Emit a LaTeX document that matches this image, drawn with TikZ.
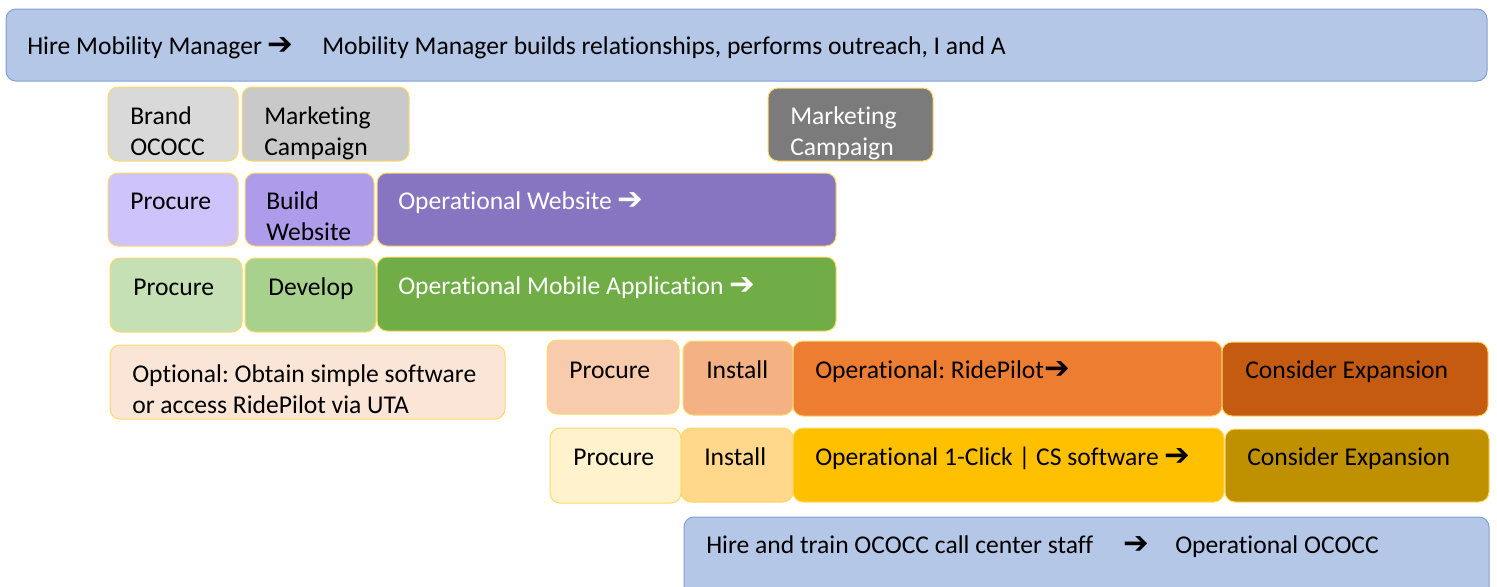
\documentclass[tikz,border=0pt]{standalone}
\usepackage{fontspec}
\setmainfont{Carlito}[Ligatures=NoCommon]
\newfontfamily\arrowfont{DejaVu Sans}
\newcommand{\rarr}{{\arrowfont\bfseries\fontsize{23}{23}\selectfont ➔}}
\frenchspacing

\definecolor{barblue}{HTML}{B4C7E7}
\definecolor{barline}{HTML}{7F9FD6}
\definecolor{boxline}{HTML}{FFD966}
\definecolor{greyA}{HTML}{D9D9D9}
\definecolor{greyB}{HTML}{C9C9C9}
\definecolor{greyC}{HTML}{7B7B7B}
\definecolor{purpleA}{HTML}{CEC3FA}
\definecolor{purpleB}{HTML}{AE9CEB}
\definecolor{purpleC}{HTML}{8775C2}
\definecolor{greenA}{HTML}{C5E0B4}
\definecolor{greenB}{HTML}{A9D18E}
\definecolor{greenC}{HTML}{70AD47}
\definecolor{peach}{HTML}{FBE5D6}
\definecolor{orangeA}{HTML}{F8CBAD}
\definecolor{orangeB}{HTML}{F4B183}
\definecolor{orangeC}{HTML}{ED7D31}
\definecolor{orangeD}{HTML}{C55A11}
\definecolor{yellowA}{HTML}{FFF2CC}
\definecolor{yellowB}{HTML}{FFD88C}
\definecolor{yellowC}{HTML}{FFC000}
\definecolor{yellowD}{HTML}{BF9000}

\begin{document}
\begin{tikzpicture}[x=0.75pt,y=-0.75pt,
    box/.style={draw=boxline, line width=0.75pt, rounded corners=7.5pt},
    lbl/.style={anchor=base west, inner sep=0pt, align=left, font=\fontsize{19.2}{23.2}\selectfont}]
    \useasboundingbox (0,0) rectangle (1497,586);

    %=== Mobility Manager ===
    \draw[box, draw=barline, fill=barblue] (6,9) rectangle (1487,81);
    \node[lbl] (hire) at (27,54) {Hire Mobility Manager \rarr};
    \node[lbl] (outreach) at (322,54) {Mobility Manager builds relationships, performs outreach, I and A};

    %=== Branding ===
    \draw[box, fill=greyA] (108,87) rectangle (238,161);
    \draw[box, fill=greyB] (242,87) rectangle (409,161);
    \draw[box, fill=greyC] (768,88) rectangle (933,161);
    \node[lbl] (brand) at (130,155) {Brand\\OCOCC};
    \node[lbl] (campaign) at (264,155) {Marketing\\Campaign};
    \node[lbl, white] (campaign2) at (790,155) {Marketing\\Campaign};

    %=== Website ===
    \draw[box, fill=purpleA] (108,173) rectangle (238,246);
    \draw[box, fill=purpleB] (245,173) rectangle (374,246);
    \draw[box, fill=purpleC] (377,173) rectangle (836,246);
    \node[lbl] (procweb) at (130,209) {Procure};
    \node[lbl] (buildweb) at (266,240) {Build\\Website};
    \node[lbl, white] (opweb) at (398,209) {Operational Website \rarr};

    %=== Mobile app ===
    \draw[box, fill=greenA] (110,258) rectangle (242,332);
    \draw[box, fill=greenB] (245,258) rectangle (376,332);
    \draw[box, fill=greenC] (377,257) rectangle (836,331);
    \node[lbl] (procapp) at (133,295) {Procure};
    \node[lbl] (develop) at (268,295) {Develop};
    \node[lbl, white] (opapp) at (398,294) {Operational Mobile Application \rarr};

    %=== Scheduling software ===
    \draw[box, fill=peach] (110,345) rectangle (505,419);
    \node[lbl] (optional) at (132,413) {Optional: Obtain simple software\\or access RidePilot via UTA};

    \draw[box, fill=orangeA] (547,340) rectangle (679,414);
    \draw[box, fill=orangeB] (683,341) rectangle (793,415);
    \draw[box, fill=orangeC] (793,341) rectangle (1222,416);
    \draw[box, fill=orangeD] (1222,342) rectangle (1488,416);
    \node[lbl] (procrp) at (569,378) {Procure};
    \node[lbl] (installrp) at (706,378) {Install};
    \node[lbl] (oprp) at (815,378) {Operational: RidePilot\rarr};
    \node[lbl] (exprp) at (1245,378) {Consider Expansion};

    %=== 1-Click ===
    \draw[box, fill=yellowA] (550,428) rectangle (681,503);
    \draw[box, fill=yellowB] (681,428) rectangle (793,502);
    \draw[box, fill=yellowC] (793,428) rectangle (1224,502);
    \draw[box, fill=yellowD] (1225,429) rectangle (1489,502);
    \node[lbl] (prococ) at (573,465) {Procure};
    \node[lbl] (installoc) at (704,465) {Install};
    \node[lbl] (opoc) at (815,465) {Operational 1-Click | CS software \rarr};
    \node[lbl] (expoc) at (1247,465) {Consider Expansion};

    %=== Call center ===
    \draw[box, draw=barline, fill=barblue] (684,517) rectangle (1489,600);
    \node[lbl] (staff) at (706,553) {Hire and train OCOCC call center staff};
    \node[lbl] (staffarr) at (1123,553) {\rarr};
    \node[lbl] (opcc) at (1175,553) {Operational OCOCC};
\end{tikzpicture}
\end{document}
